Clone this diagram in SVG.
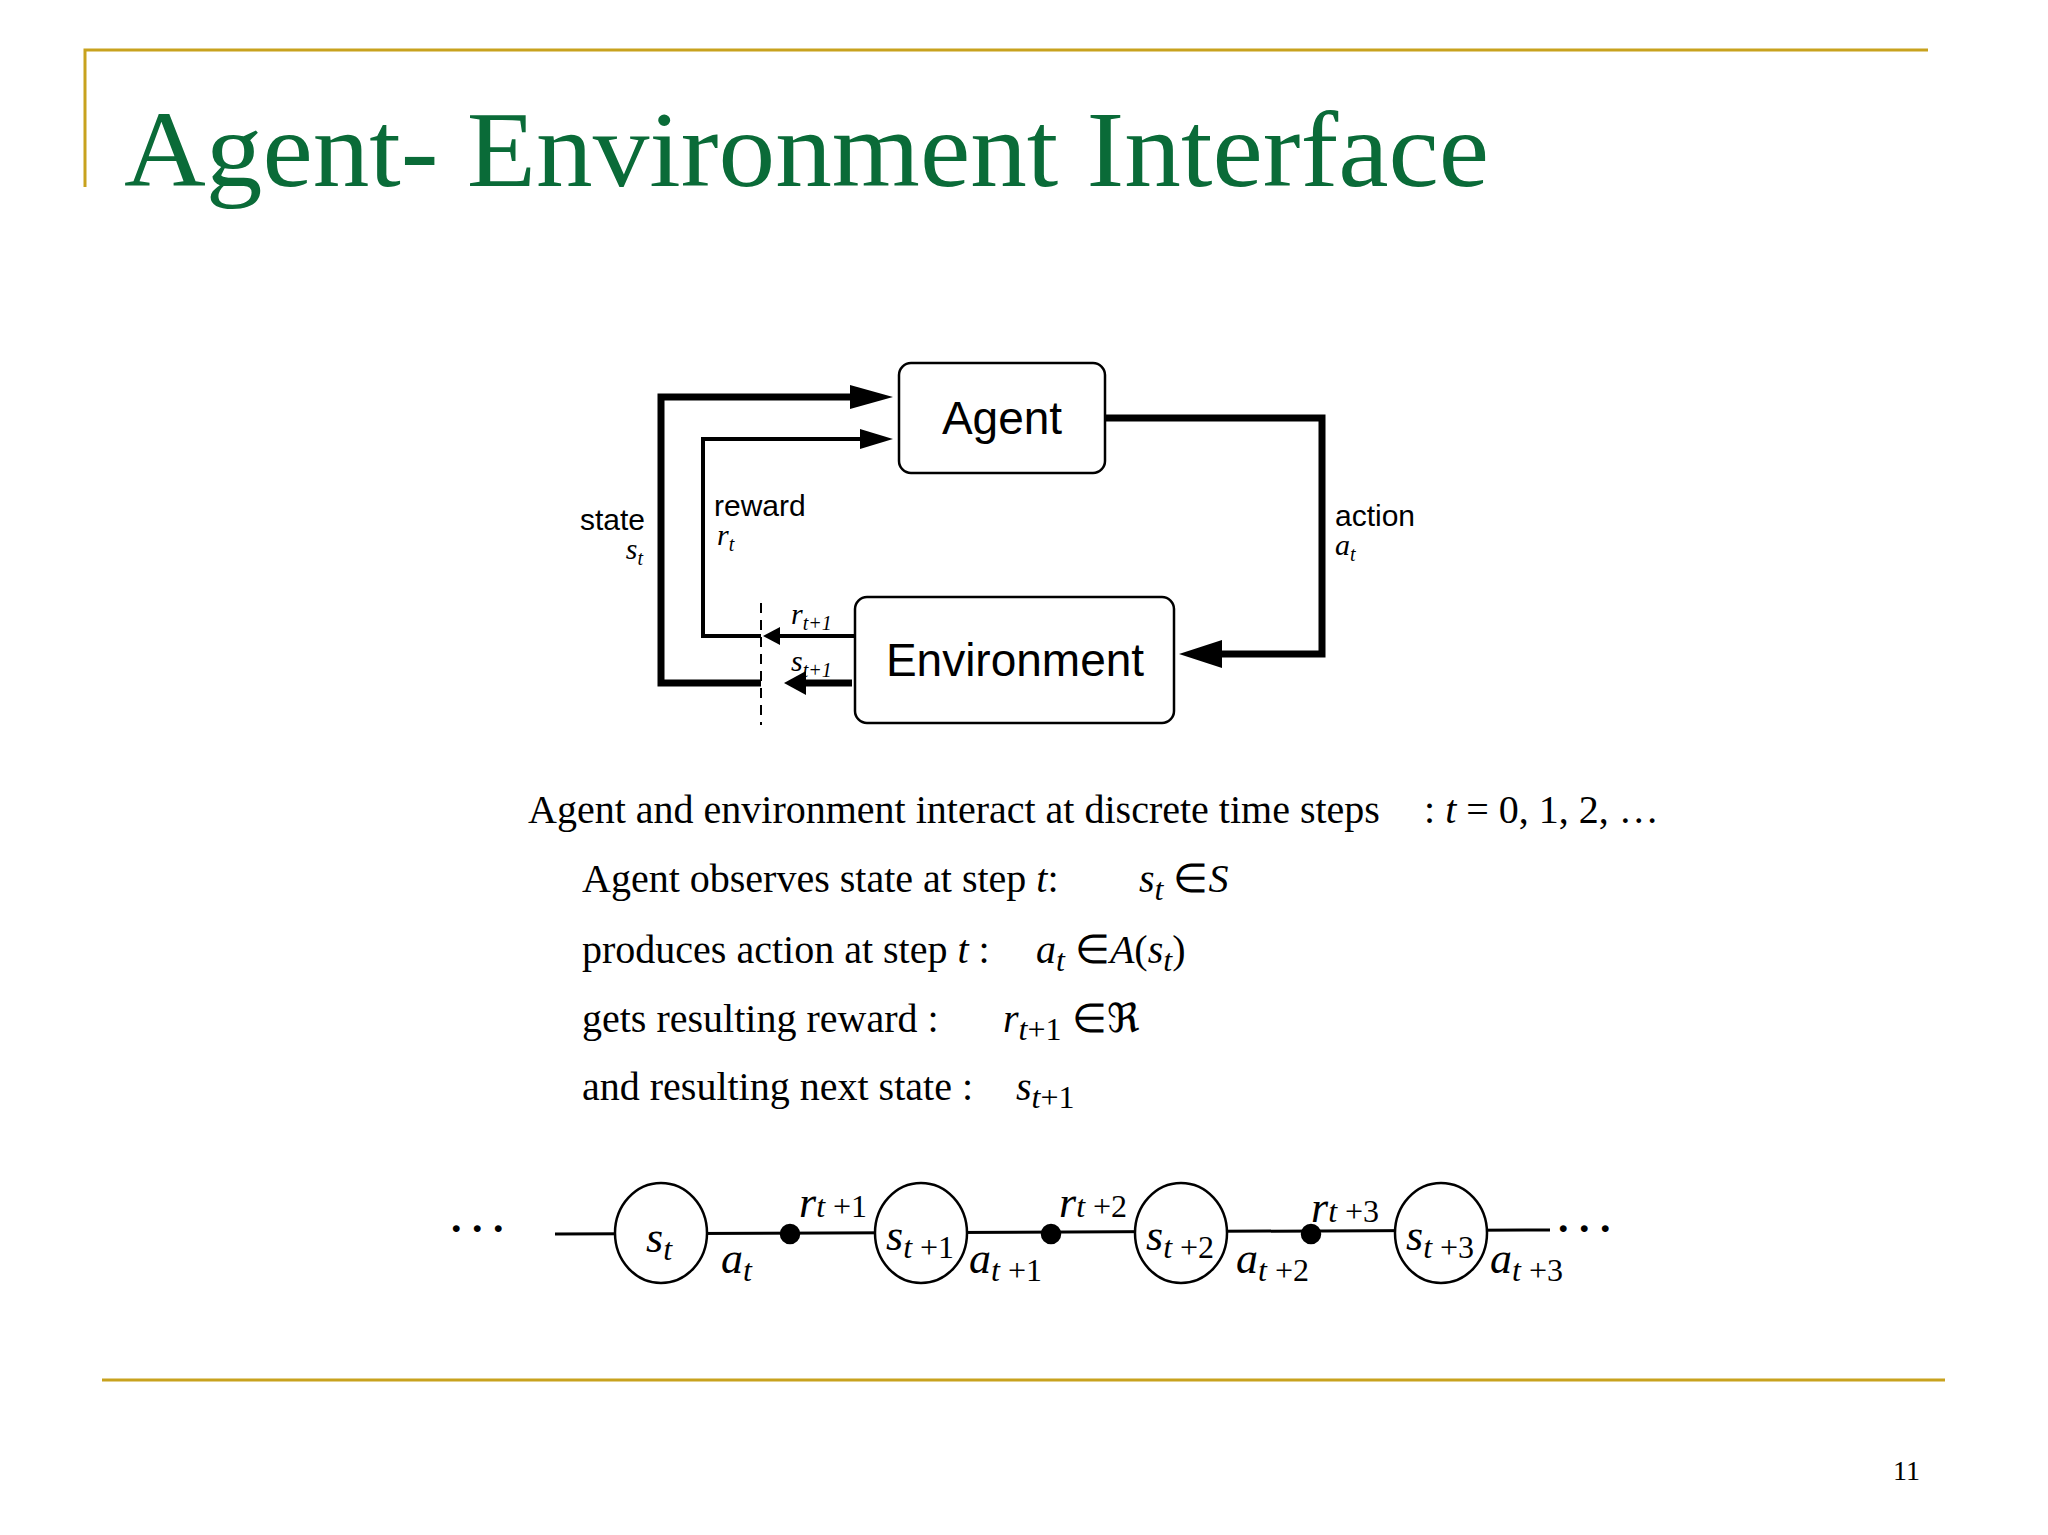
<svg xmlns="http://www.w3.org/2000/svg" width="2048" height="1535" viewBox="0 0 2048 1535">
<style>
.gold{stroke:#c8a21e;stroke-width:3;fill:none}
.box{fill:#fff;stroke:#000;stroke-width:2.5}
.sans{font-family:"Liberation Sans",Arial,sans-serif}
.ser{font-family:"Liberation Serif","Times New Roman",serif;font-size:40px}
.it{font-style:italic}
.thick{stroke:#000;stroke-width:7;fill:none}
.thin{stroke:#000;stroke-width:4;fill:none}
.ch{font-family:"Liberation Serif","Times New Roman",serif;font-style:italic;font-size:44px}
.sub{font-size:32px}
</style>
<defs>
<marker id="ah" markerWidth="10" markerHeight="8" refX="10" refY="4" orient="auto" markerUnits="userSpaceOnUse" viewBox="0 0 10 8"><path d="M0,0L10,4L0,8z"/></marker>
</defs>
<rect width="2048" height="1535" fill="#fff"/>
<path class="gold" d="M85,187V50H1928"/>
<path class="gold" d="M102,1380H1945"/>
<text x="124" y="186" font-family="Liberation Serif,serif" font-size="108" fill="#0a6b38" textLength="1365" lengthAdjust="spacingAndGlyphs">Agent- Environment Interface</text>
<text x="1920" y="1480" text-anchor="end" font-family="Liberation Serif,serif" font-size="28">11</text>
<g id="connectors">
<path class="thick" d="M761,683H661V397H850"/>
<path d="M893,397L850,385V409z"/>
<path class="thin" d="M761,636H703V439H860"/>
<path d="M893,439L860,429V449z"/>
<path class="thick" d="M852,683H800"/>
<path d="M784,683L806,671V695z"/>
<path class="thin" d="M855,636H775"/>
<path d="M763,636L780,627V645z"/>
<path class="thick" d="M1105,418H1322V654H1215"/>
<path d="M1179,654L1222,640V668z"/>
<line x1="761" y1="603" x2="761" y2="725" stroke="#000" stroke-width="2" stroke-dasharray="10,7"/>
</g>
<g id="agent"><rect class="box" x="899" y="363" width="206" height="110" rx="12"/>
<text class="sans" x="1002" y="434" font-size="46" text-anchor="middle">Agent</text></g>
<g id="environment"><rect class="box" x="855" y="597" width="319" height="126" rx="12"/>
<text class="sans" x="1015" y="676" font-size="46" text-anchor="middle">Environment</text></g>
<g class="sans" font-size="30">
<text x="645" y="530" text-anchor="end">state</text>
<text x="643" y="559" text-anchor="end" font-family="Liberation Serif,serif" font-style="italic">s<tspan font-size="20" dy="6">t</tspan></text>
<text x="714" y="516">reward</text>
<text x="717" y="545" font-family="Liberation Serif,serif" font-style="italic">r<tspan font-size="20" dy="6">t</tspan></text>
<text x="1335" y="526">action</text>
<text x="1335" y="555" font-family="Liberation Serif,serif" font-style="italic">a<tspan font-size="20" dy="6">t</tspan></text>
<text x="791" y="624" font-family="Liberation Serif,serif" font-style="italic">r<tspan font-size="20" dy="6">t+1</tspan></text>
<text x="791" y="671" font-family="Liberation Serif,serif" font-style="italic">s<tspan font-size="20" dy="6">t+1</tspan></text>
</g>
<g class="ser">
<text x="528" y="823">Agent and environment interact at discrete time steps</text>
<text x="1424" y="823">:  <tspan class="it">t</tspan> = 0, 1, 2, …</text>
<text x="582" y="892">Agent observes state at step  <tspan class="it">t</tspan>:</text>
<text x="1139" y="892"><tspan class="it">s</tspan><tspan class="it sub" dy="8">t</tspan><tspan dy="-8"> ∈</tspan><tspan class="it">S</tspan></text>
<text x="582" y="963">produces action at step  <tspan class="it">t</tspan> :</text>
<text x="1036" y="963"><tspan class="it">a</tspan><tspan class="it sub" dy="8">t</tspan><tspan dy="-8"> ∈</tspan><tspan class="it">A</tspan>(<tspan class="it">s</tspan><tspan class="it sub" dy="8">t</tspan><tspan dy="-8">)</tspan></text>
<text x="582" y="1032">gets resulting reward :</text>
<text x="1003" y="1032"><tspan class="it">r</tspan><tspan class="sub" dy="8"><tspan class="it">t</tspan>+1</tspan><tspan dy="-8"> ∈ℜ</tspan></text>
<text x="582" y="1100">and resulting next state :</text>
<text x="1016" y="1100"><tspan class="it">s</tspan><tspan class="sub" dy="8"><tspan class="it">t</tspan>+1</tspan></text>
</g>
<g id="chain-line"><line x1="555" y1="1234" x2="1550" y2="1230" stroke="#000" stroke-width="3"/></g>
<g id="chain" fill="#fff" stroke="#000" stroke-width="2.5">
<ellipse cx="661" cy="1233" rx="46" ry="50"/>
<ellipse cx="921" cy="1233" rx="46" ry="50"/>
<ellipse cx="1181" cy="1233" rx="46" ry="50"/>
<ellipse cx="1441" cy="1233" rx="46" ry="50"/>
<circle cx="790" cy="1234" r="9" fill="#000"/>
<circle cx="1051" cy="1234" r="9" fill="#000"/>
<circle cx="1311" cy="1234" r="9" fill="#000"/>
</g>
<g font-family="Liberation Serif,serif" font-size="42" font-weight="bold">
<text x="451" y="1232">. . .</text><text x="1558" y="1232">. . .</text>
</g>
<g class="ch">
<text x="646" y="1252">s<tspan class="sub" dy="8">t</tspan></text>
<text x="721" y="1273">a<tspan class="sub" dy="8">t</tspan></text>
<text x="799" y="1217">r<tspan class="sub">t<tspan font-style="normal"> +1</tspan></tspan></text>
<text x="886" y="1250">s<tspan class="sub" dy="8">t<tspan font-style="normal"> +1</tspan></tspan></text>
<text x="969" y="1273">a<tspan class="sub" dy="8">t<tspan font-style="normal"> +1</tspan></tspan></text>
<text x="1059" y="1217">r<tspan class="sub">t<tspan font-style="normal"> +2</tspan></tspan></text>
<text x="1146" y="1250">s<tspan class="sub" dy="8">t<tspan font-style="normal"> +2</tspan></tspan></text>
<text x="1236" y="1273">a<tspan class="sub" dy="8">t<tspan font-style="normal"> +2</tspan></tspan></text>
<text x="1311" y="1222">r<tspan class="sub">t<tspan font-style="normal"> +3</tspan></tspan></text>
<text x="1406" y="1250">s<tspan class="sub" dy="8">t<tspan font-style="normal"> +3</tspan></tspan></text>
<text x="1490" y="1273">a<tspan class="sub" dy="8">t<tspan font-style="normal"> +3</tspan></tspan></text>
</g>
</svg>
